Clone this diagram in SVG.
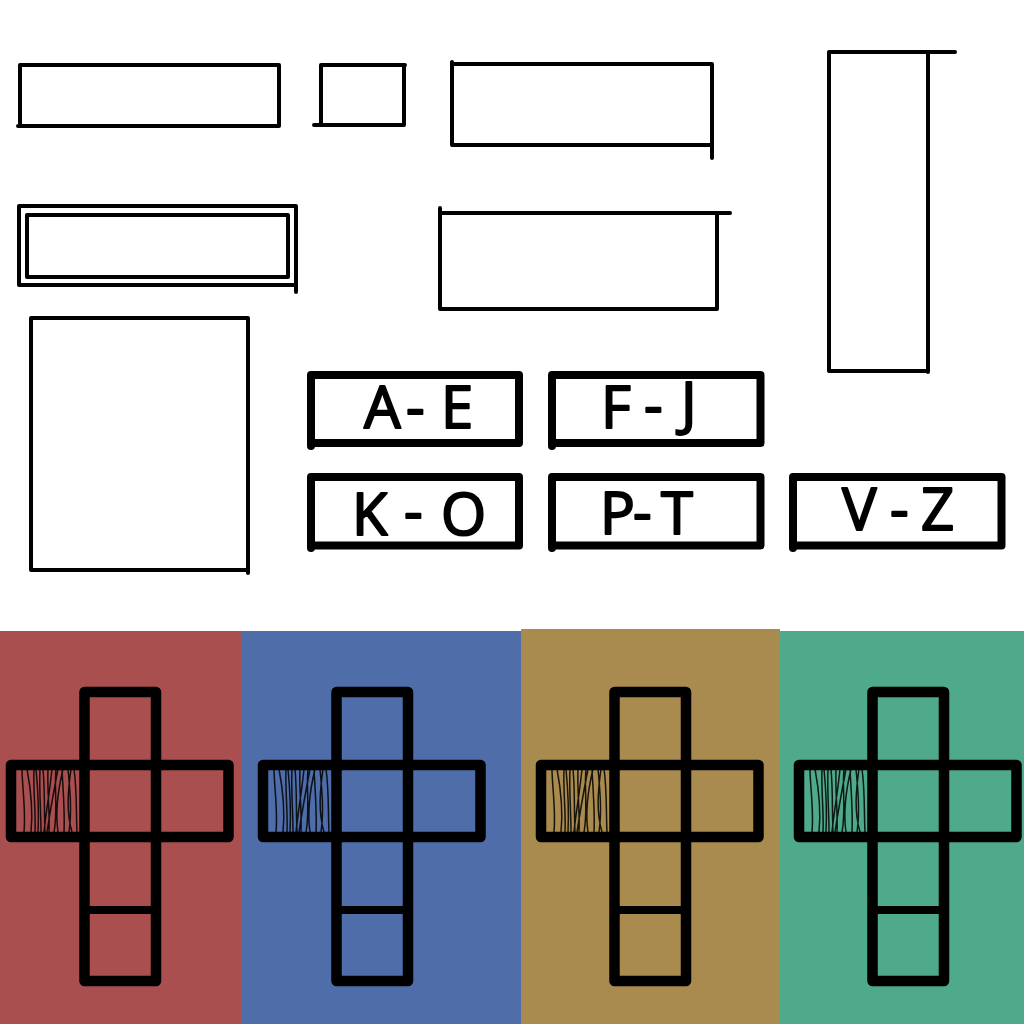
<svg xmlns="http://www.w3.org/2000/svg" width="1024" height="1024" viewBox="0 0 1024 1024">
<style>
.s{fill:none;stroke:#000;stroke-width:4;stroke-linecap:round;stroke-linejoin:round}
.b{fill:none;stroke:#000;stroke-width:8;stroke-linecap:round;stroke-linejoin:round}
.c{fill:none;stroke:#000;stroke-width:10.500;stroke-linecap:round;stroke-linejoin:round}
.h{fill:none;stroke:#000;stroke-width:1.500;opacity:.85}
.t{font-family:"Open Sans","Liberation Sans",sans-serif;font-size:58px;fill:#000;stroke:#000;stroke-width:2;stroke-linejoin:round}
</style>
<defs>
<g id="cross">
<path class="h" d="M22 769C22 785 26 810 24 832M27 769C31 790 33 812 31 832M34 769C33 790 36 812 35 832M36 769C38 790 39 812 38 832M40 769C39 790 41 812 41 832M43 769C45 790 44 812 45 832M52 769C50 790 46 812 44 832M58 769C54 790 50 812 47 832M63 769C58 790 55 812 58 832M68 769C70 790 72 812 69 832M74 769C77 790 76 812 77 832M62 769C63 790 65 812 64 832M56 769C54 785 58 812 54 832M71 769C68 790 66 812 72 832M48 769C47 790 50 812 49 832"/>
<path class="c" d="M84.500 765V692H156V981H84.500ZM11 765H228.500V837H11ZM84.500 837H156"/>
<path d="M84.500 910H156" fill="none" stroke="#000" stroke-width="8"/>
</g>
</defs>
<rect width="1024" height="1024" fill="#fff"/>
<g id="panel-red"><rect x="0" y="631" width="241" height="393" fill="#A94F4F"/><use href="#cross"/></g>
<g id="panel-blue"><rect x="241" y="631" width="280" height="393" fill="#4F6DA9"/><use href="#cross" x="252"/></g>
<g id="panel-gold"><rect x="521" y="629" width="259" height="395" fill="#A98B4F"/><use href="#cross" x="530"/></g>
<g id="panel-green"><rect x="780" y="631" width="244" height="393" fill="#4FA98B"/><use href="#cross" x="788"/></g>
<g id="box1"><path class="s" d="M20 65H279V126H18M20 65V126"/></g>
<g id="box2"><path class="s" d="M321 65H405M321 65V125M404 65V125H314"/></g>
<g id="box3"><path class="s" d="M452 62V145H712M452 64H712V158"/></g>
<g id="box4"><path class="s" d="M829 52H955M829 52V371H928M928 52V372"/></g>
<g id="box5"><path class="s" d="M19 206H296V292M19 206V285H296M27 215H288V277H27Z"/></g>
<g id="box6"><path class="s" d="M440 208V309H717V213M440 213H730"/></g>
<g id="box7"><path class="s" d="M31 318H248V573M31 318V570H248"/></g>
<g id="label-ae"><path class="b" d="M311 375H519V443H311ZM311 375V446"/><text class="t"><tspan x="364" y="428">A</tspan><tspan x="406" y="428">-</tspan><tspan x="441" y="428">E</tspan></text></g>
<g id="label-fj"><path class="b" d="M552 375H760.500V443H552ZM552 375V446"/><text class="t"><tspan x="601" y="428">F</tspan><tspan x="644" y="426">-</tspan><tspan x="681" y="424">J</tspan></text></g>
<g id="label-ko"><path class="b" d="M311 477H519V545.500H311ZM311 477V548"/><text class="t"><tspan x="352" y="535">K</tspan><tspan x="404" y="532">-</tspan><tspan x="441" y="535">O</tspan></text></g>
<g id="label-pt"><path class="b" d="M552 477H760.500V545.500H552ZM552 477V548"/><text class="t"><tspan x="600" y="534">P</tspan><tspan x="633" y="533">-</tspan><tspan x="661" y="534">T</tspan></text></g>
<g id="label-vz"><path class="b" d="M793 477H1001.500V545.500H793ZM793 477V548"/><text class="t"><tspan x="842" y="530">V</tspan><tspan x="890" y="530">-</tspan><tspan x="921" y="530">Z</tspan></text></g>
</svg>
